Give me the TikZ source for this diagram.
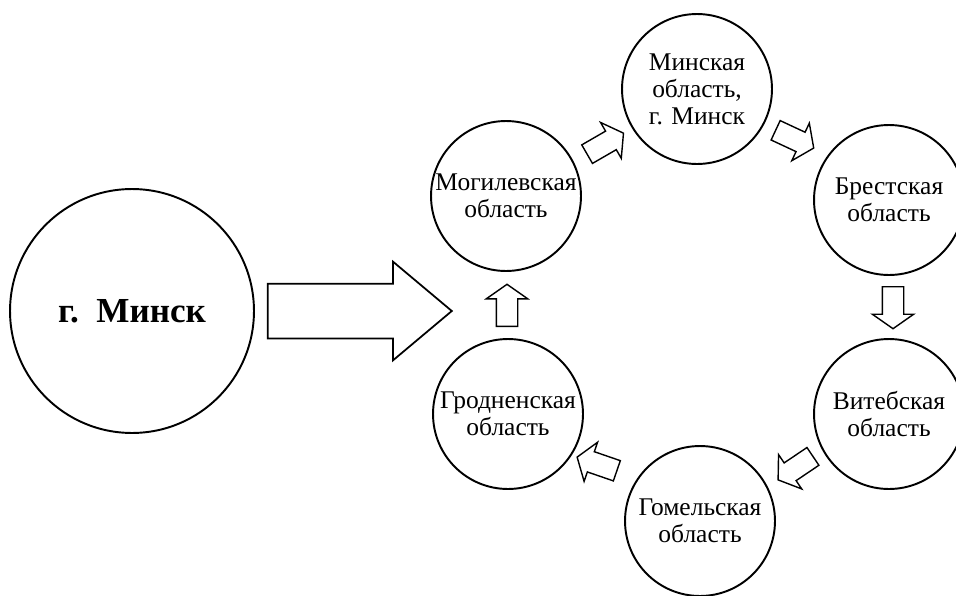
\documentclass[tikz,border=0pt]{standalone}
\usepackage{fontspec}
\setmainfont{Liberation Serif}
\usetikzlibrary{shapes.arrows}
\usetikzlibrary{positioning}

\begin{document}
\begin{tikzpicture}[x=0.02cm, y=-0.02cm]
                \tikzstyle{oblast} = [draw, circle, line width=1.1pt, minimum size=3cm, inner sep=0pt, align=center, font=\fontsize{14.5}{15.4}\selectfont]
                \tikzstyle{hop} = [draw, single arrow, line width=0.8pt, minimum height=0.84cm, inner xsep=0pt, inner ysep=0.2cm, single arrow head extend=0.2cm, single arrow tip angle=110, anchor=tail]
                \useasboundingbox (0, 0) rectangle (956, 595);
                \clip (0, 0) rectangle (956, 595);
                % the city and the big arrow
                \node[draw, circle, line width=1.1pt, minimum size=4.88cm, font=\fontsize{20}{24}\selectfont\bfseries] (minsk) at (132, 311) {г.\ \ Минск};
                \node[draw, single arrow, line width=1pt, minimum height=3.68cm, inner xsep=0pt, inner ysep=0.53cm, single arrow head extend=0.44cm, single arrow tip angle=80, right=0.24cm of minsk] (flow) {};
                % the ring of regions
                \node[oblast] (minobl) at (697, 89) {Минская\\область,\\г. Минск};
                \node[oblast] (brest) at (889, 200) {Брестская\\область};
                \node[oblast] (vit) at (889, 414) {Витебская\\область};
                \node[oblast] (gom) at (700, 521) {Гомельская\\область};
                \node[oblast] (grod) at (508, 414) {Гродненская\\область};
                \node[oblast] (mog) at (506, 196) {Могилевская\\область};
                \node[hop, rotate=30] (hop1) at (586.5, 154.5) {};
                \node[hop, rotate=-25] (hop2) at (775, 130) {};
                \node[hop, rotate=-90] (hop3) at (893, 286) {};
                \node[hop, rotate=-146] (hop4) at (813.5, 456) {};
                \node[hop, rotate=161] (hop5) at (617.5, 471) {};
                \node[hop, rotate=90] (hop6) at (507, 327) {};
\end{tikzpicture}
\end{document}
